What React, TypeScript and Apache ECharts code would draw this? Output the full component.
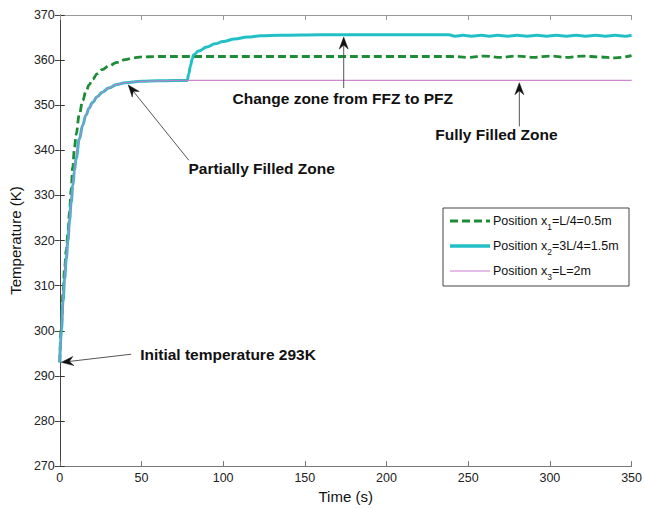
import React, { useEffect, useRef } from "react";
import * as echarts from "echarts";

// Time axis (s) and temperature (K) readings for each position along the collector
const timeX1 = [0, 1, 2, 3, 4, 5, 6, 7, 8, 9, 10, 12, 14, 16, 18, 20, 23, 26, 30, 35, 40, 45, 50, 60, 80, 120, 160, 200, 240, 250, 260, 270, 280, 290, 300, 310, 320, 330, 340, 350];
const tempX1 = [293, 301, 308.5, 314, 318, 321.5, 326.5, 331.5, 336.5, 340.5, 343.5, 348, 351, 353, 354.5, 355.7, 357, 357.9, 358.7, 359.5, 360.1, 360.5, 360.7, 360.8, 360.8, 360.8, 360.8, 360.8, 360.8, 360.6, 360.9, 360.6, 360.9, 360.6, 360.9, 360.6, 360.9, 360.7, 360.5, 361.0];

const timeX2 = [0, 1, 2, 3, 4, 5, 6, 7, 8, 9, 10, 12, 14, 16, 18, 20, 23, 26, 30, 35, 40, 50, 60, 70, 78, 79, 80, 81, 82, 85, 90, 95, 100, 107, 115, 123, 135, 160, 200, 238, 242, 247, 252, 258, 263, 268, 274, 280, 286, 292, 298, 304, 310, 316, 322, 328, 334, 340, 346, 350];
const tempX2 = [293, 300, 306.5, 311.5, 316, 320, 324.5, 328.5, 332.2, 335.5, 338.2, 342.5, 345.5, 347.8, 349.4, 350.6, 351.9, 352.9, 353.8, 354.6, 355, 355.3, 355.4, 355.5, 355.5, 357, 358.7, 360.2, 361.2, 362, 362.9, 363.6, 364.1, 364.7, 365.1, 365.4, 365.5, 365.6, 365.6, 365.6, 365.3, 365.5, 365.3, 365.5, 365.3, 365.5, 365.3, 365.5, 365.3, 365.5, 365.3, 365.5, 365.3, 365.5, 365.3, 365.5, 365.3, 365.5, 365.3, 365.5];

const timeX3 = [0, 1, 2, 3, 4, 5, 6, 7, 8, 9, 10, 12, 14, 16, 18, 20, 23, 26, 30, 35, 40, 50, 60, 70, 78, 100, 150, 200, 250, 300, 350];
const tempX3 = [293, 300, 306.5, 311.5, 316, 320, 324.5, 328.5, 332.2, 335.5, 338.2, 342.5, 345.5, 347.8, 349.4, 350.6, 351.9, 352.9, 353.8, 354.6, 355, 355.3, 355.4, 355.5, 355.5, 355.5, 355.5, 355.5, 355.5, 355.5, 355.5];

const xTicks = { min: 0, max: 350, interval: 50 };
const yTicks = { min: 270, max: 370, interval: 10 };

// Annotations: arrow tail / tip and label anchor, in (time, temperature)
const notes = [
  { text: "Change zone from FFZ to PFZ", tail: [173.8, 353.8], tip: [173.8, 365.1], at: [173.2, 351.6], align: "center" },
  { text: "Fully Filled Zone", tail: [281.3, 345.3], tip: [281.3, 355.0], at: [267.3, 343.4], align: "center" },
  { text: "Partially Filled Zone", tail: [79, 337.8], tip: [41.9, 354.5], at: [123.6, 335.9], align: "center" },
  { text: "Initial temperature 293K", tail: [43.7, 294.8], tip: [1.0, 293.0], at: [49.2, 294.8], align: "left" },
];

const COLOR_X1 = "#1e8c34";
const COLOR_X2 = "#22c0c6";
const COLOR_X3 = "#c77ccc";
const FONT = "'Liberation Sans', Arial, Helvetica, sans-serif";

const pairs = (t: number[], v: number[]) => t.map((x, i) => [x, v[i]]);

function arrowGraphics(tail: number[], tip: number[]) {
  const dx = tip[0] - tail[0];
  const dy = tip[1] - tail[1];
  const len = Math.hypot(dx, dy) || 1;
  const ux = dx / len, uy = dy / len;
  const nx = -uy, ny = ux;
  const L = 12, W = 4.5, N = 8;
  const back = [tip[0] - ux * N, tip[1] - uy * N];
  return [
    {
      type: "line",
      shape: { x1: tail[0], y1: tail[1], x2: back[0], y2: back[1] },
      style: { stroke: "#555", lineWidth: 1 },
      silent: true,
    },
    {
      type: "polygon",
      shape: {
        points: [
          tip,
          [tip[0] - ux * L + nx * W, tip[1] - uy * L + ny * W],
          back,
          [tip[0] - ux * L - nx * W, tip[1] - uy * L - ny * W],
        ],
      },
      style: { fill: "#111", stroke: "#111", lineWidth: 0.5 },
      silent: true,
    },
  ];
}

function legendGraphics() {
  const box = { x: 443, y: 208, w: 186, h: 78 };
  const rows = [
    { y: 221, color: COLOR_X1, width: 3, dash: [8, 4], sub: "1", rest: "=L/4=0.5m" },
    { y: 246, color: COLOR_X2, width: 3.5, dash: null, sub: "2", rest: "=3L/4=1.5m" },
    { y: 271, color: COLOR_X3, width: 1, dash: null, sub: "3", rest: "=L=2m" },
  ];
  const els: any[] = [
    {
      type: "rect",
      shape: { x: box.x, y: box.y, width: box.w, height: box.h },
      style: { fill: "#fff", stroke: "#444", lineWidth: 1 },
      z: 10,
    },
  ];
  rows.forEach((r) => {
    els.push({
      type: "line",
      shape: { x1: 450, y1: r.y, x2: 490, y2: r.y },
      style: { stroke: r.color, lineWidth: r.width, lineDash: r.dash || undefined },
      z: 11,
    });
    els.push({
      type: "text",
      x: 493,
      y: r.y,
      z: 11,
      style: {
        text: `{a|Position x}{b|${r.sub}}{a|${r.rest}}`,
        verticalAlign: "middle",
        rich: {
          a: { fontSize: 12.5, fontFamily: FONT, fill: "#111", lineHeight: 14 },
          b: { fontSize: 8.5, fontFamily: FONT, fill: "#111", lineHeight: 20, verticalAlign: "bottom" },
        },
      },
    });
  });
  return els;
}

export default function App() {
  const ref = useRef<HTMLDivElement>(null);

  useEffect(() => {
    if (!ref.current) return;
    const chart = echarts.init(ref.current, null, { renderer: "svg" });

    const hiddenAxis = {
      axisLabel: { show: false },
      splitLine: { show: false },
    };

    chart.setOption({
      animation: false,
      backgroundColor: "#fff",
      grid: { left: 58, right: 11, top: 15, bottom: 37 },
      xAxis: [
        {
          type: "value",
          ...xTicks,
          name: "Time (s)",
          nameLocation: "middle",
          nameGap: 18,
          nameTextStyle: { fontSize: 15, fontFamily: FONT, color: "#111" },
          axisLine: { lineStyle: { color: "#777", width: 1 } },
          axisTick: { inside: true, length: 5, lineStyle: { color: "#777" } },
          axisLabel: { fontSize: 12.5, fontFamily: FONT, color: "#222", margin: 5 },
          splitLine: { show: false },
        },
        {
          type: "value",
          ...xTicks,
          position: "top",
          axisLine: { lineStyle: { color: "#999", width: 1 } },
          axisTick: { inside: true, length: 5, lineStyle: { color: "#999" } },
          ...hiddenAxis,
        },
      ],
      yAxis: [
        {
          type: "value",
          ...yTicks,
          name: "Temperature (K)",
          nameLocation: "middle",
          nameGap: 33,
          nameRotate: 90,
          nameTextStyle: { fontSize: 15, fontFamily: FONT, color: "#111" },
          axisLine: { show: true, lineStyle: { color: "#999", width: 1 } },
          axisTick: { show: true, inside: true, length: 5, lineStyle: { color: "#333" } },
          axisLabel: { fontSize: 12.5, fontFamily: FONT, color: "#222", margin: 5 },
          splitLine: { show: false },
        },
        {
          type: "value",
          ...yTicks,
          position: "right",
          axisLine: { show: true, lineStyle: { color: "#444", width: 1 } },
          axisTick: { show: true, inside: true, length: 5, lineStyle: { color: "#444" } },
          ...hiddenAxis,
        },
      ],
      series: [
        {
          name: "Position x1=L/4=0.5m",
          type: "line",
          data: pairs(timeX1, tempX1),
          showSymbol: false,
          smooth: 0.4,
          smoothMonotone: "x",
          lineStyle: { color: COLOR_X1, width: 2.8, type: [8, 4] },
          z: 3,
        },
        {
          name: "Position x2=3L/4=1.5m",
          type: "line",
          data: pairs(timeX2, tempX2),
          showSymbol: false,
          smooth: 0.4,
          smoothMonotone: "x",
          lineStyle: { color: COLOR_X2, width: 3 },
          z: 4,
        },
        {
          name: "Position x3=L=2m",
          type: "line",
          data: pairs(timeX3, tempX3),
          showSymbol: false,
          smooth: 0.4,
          smoothMonotone: "x",
          lineStyle: { color: COLOR_X3, width: 1.2, opacity: 0.9 },
          z: 5,
        },
      ],
    });

    const toPx = (p: number[]) => chart.convertToPixel({ xAxisIndex: 0, yAxisIndex: 0 }, p) as number[];
    const graphics: any[] = [];
    notes.forEach((n) => {
      arrowGraphics(toPx(n.tail), toPx(n.tip)).forEach((g) => graphics.push({ ...g, z: 20 }));
      const pos = toPx(n.at);
      graphics.push({
        type: "text",
        x: pos[0],
        y: pos[1],
        z: 20,
        style: {
          text: n.text,
          fontSize: 15.5,
          fontWeight: "bold",
          fontFamily: FONT,
          fill: "#111",
          align: n.align,
          verticalAlign: "middle",
        },
      });
    });
    graphics.push(...legendGraphics());
    chart.setOption({ graphic: graphics });

    return () => chart.dispose();
  }, []);

  return (
    <div
      ref={ref}
      style={{ position: "fixed", left: 0, top: 0, width: 645, height: 509 }}
    />
  );
}
